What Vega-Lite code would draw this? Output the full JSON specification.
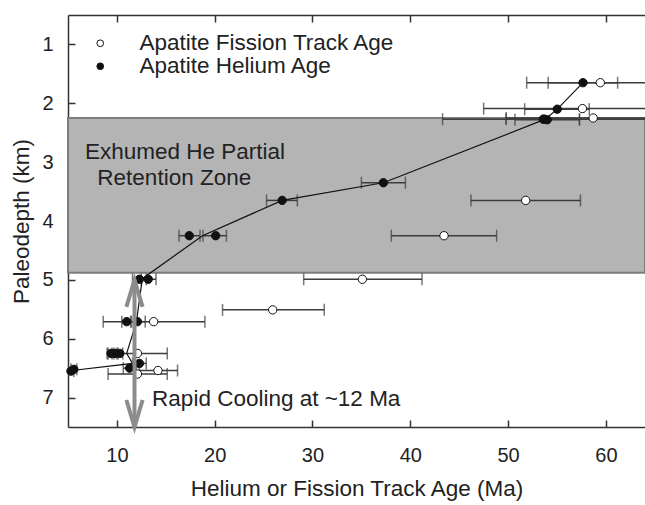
{
  "$schema": "https://vega.github.io/schema/vega-lite/v6.json",
  "width": 577,
  "height": 412,
  "autosize": {"type": "none"},
  "padding": {"left": 68, "top": 15, "right": 0, "bottom": 78},
  "background": "white",
  "config": {
    "view": {"stroke": null},
    "font": "Liberation Sans",
    "axis": {"grid": false, "domainColor": "#333", "domainWidth": 1.5, "tickColor": "#333", "tickWidth": 1.5, "labelColor": "#222", "titleColor": "#222", "labelFont": "Liberation Sans", "titleFont": "Liberation Sans", "titleFontWeight": "normal"}
  },
  "datasets": {
    "band": [{"x1": 5, "x2": 64, "y1": 2.25, "y2": 4.88}],
    "pts": [
      {"type": "Apatite Fission Track Age", "age": 59.43, "depth": 1.65, "lo": 51.9, "hi": 67.0},
      {"type": "Apatite Fission Track Age", "age": 57.6, "depth": 2.09, "lo": 47.5, "hi": 67.7},
      {"type": "Apatite Fission Track Age", "age": 53.7, "depth": 2.27, "lo": 43.3, "hi": 64.1},
      {"type": "Apatite Fission Track Age", "age": 58.7, "depth": 2.25, "lo": 49.8, "hi": 67.6},
      {"type": "Apatite Fission Track Age", "age": 51.8, "depth": 3.65, "lo": 46.2, "hi": 57.4},
      {"type": "Apatite Fission Track Age", "age": 43.45, "depth": 4.25, "lo": 38.06, "hi": 48.83},
      {"type": "Apatite Fission Track Age", "age": 35.1, "depth": 4.99, "lo": 29.1, "hi": 41.2},
      {"type": "Apatite Fission Track Age", "age": 25.93, "depth": 5.51, "lo": 20.8, "hi": 31.2},
      {"type": "Apatite Fission Track Age", "age": 13.76, "depth": 5.71, "lo": 8.6, "hi": 19.0},
      {"type": "Apatite Fission Track Age", "age": 12.1, "depth": 6.25, "lo": 9.0, "hi": 15.15},
      {"type": "Apatite Fission Track Age", "age": 14.2, "depth": 6.54, "lo": 12.3, "hi": 16.2},
      {"type": "Apatite Fission Track Age", "age": 12.1, "depth": 6.6, "lo": 9.1, "hi": 15.15},
      {"type": "Apatite Helium Age", "age": 57.66, "depth": 1.65, "lo": 54.1, "hi": 61.2},
      {"type": "Apatite Helium Age", "age": 55.03, "depth": 2.1, "lo": 51.7, "hi": 58.3},
      {"type": "Apatite Helium Age", "age": 53.6, "depth": 2.27, "lo": 49.8, "hi": 57.3},
      {"type": "Apatite Helium Age", "age": 54.0, "depth": 2.28, "lo": 50.7, "hi": 57.3},
      {"type": "Apatite Helium Age", "age": 37.25, "depth": 3.35, "lo": 35.0, "hi": 39.5},
      {"type": "Apatite Helium Age", "age": 26.9, "depth": 3.65, "lo": 25.3, "hi": 28.45},
      {"type": "Apatite Helium Age", "age": 20.1, "depth": 4.25, "lo": 18.8, "hi": 21.2},
      {"type": "Apatite Helium Age", "age": 17.4, "depth": 4.25, "lo": 16.35, "hi": 18.5},
      {"type": "Apatite Helium Age", "age": 12.3, "depth": 4.99, "lo": 11.6, "hi": 13.0},
      {"type": "Apatite Helium Age", "age": 13.2, "depth": 4.99, "lo": 12.5, "hi": 14.0},
      {"type": "Apatite Helium Age", "age": 11.0, "depth": 5.71, "lo": 10.5, "hi": 11.5},
      {"type": "Apatite Helium Age", "age": 12.1, "depth": 5.71, "lo": 11.4, "hi": 12.9},
      {"type": "Apatite Helium Age", "age": 9.4, "depth": 6.25, "lo": 9.1, "hi": 9.7},
      {"type": "Apatite Helium Age", "age": 9.8, "depth": 6.25, "lo": 9.5, "hi": 10.1},
      {"type": "Apatite Helium Age", "age": 10.3, "depth": 6.25, "lo": 10.0, "hi": 10.6},
      {"type": "Apatite Helium Age", "age": 12.3, "depth": 6.42, "lo": 11.6, "hi": 13.0},
      {"type": "Apatite Helium Age", "age": 11.3, "depth": 6.5, "lo": 10.65, "hi": 12.0},
      {"type": "Apatite Helium Age", "age": 5.3, "depth": 6.55, "lo": 5.0, "hi": 5.6},
      {"type": "Apatite Helium Age", "age": 5.6, "depth": 6.52, "lo": 5.3, "hi": 5.9}
    ],
    "trend": [
      {"seq": 1, "age": 57.66, "depth": 1.65},
      {"seq": 2, "age": 55.03, "depth": 2.1},
      {"seq": 3, "age": 53.8, "depth": 2.27},
      {"seq": 4, "age": 37.25, "depth": 3.35},
      {"seq": 5, "age": 26.9, "depth": 3.65},
      {"seq": 6, "age": 18.75, "depth": 4.25},
      {"seq": 7, "age": 12.6, "depth": 4.98},
      {"seq": 8, "age": 12.0, "depth": 5.71},
      {"seq": 9, "age": 11.0, "depth": 6.25},
      {"seq": 10, "age": 11.6, "depth": 6.42},
      {"seq": 11, "age": 5.4, "depth": 6.54}
    ],
    "notes": [
      {"label": "Exhumed He Partial", "age": 6.74, "depth": 2.95},
      {"label": "Retention Zone", "age": 8.0, "depth": 3.39},
      {"label": "Rapid Cooling at ~12 Ma", "age": 13.6, "depth": 7.14}
    ],
    "arrow": [
      {"age": 11.8, "top": 5.0, "bottom": 7.5}
    ],
    "heads": [
      {"age": 11.8, "depth": 5.0, "dir": "up"},
      {"age": 11.8, "depth": 7.5, "dir": "down"}
    ]
  },
  "resolve": {"axis": {"x": "independent"}},
  "layer": [
    {
      "data": {"name": "band"},
      "mark": {"type": "rect", "fill": "#b4b4b4", "stroke": "#7d7d7d", "strokeWidth": 2},
      "encoding": {
        "x": {"field": "x1", "type": "quantitative",
              "scale": {"domain": [5, 64], "nice": false, "zero": false},
              "axis": {"orient": "bottom", "values": [10, 20, 30, 40, 50, 60], "format": "d", "tickSize": -7, "labelPadding": 25, "labelFontSize": 20, "title": "Helium or Fission Track Age (Ma)", "titleFontSize": 22.5, "titlePadding": 12}},
        "x2": {"field": "x2"},
        "y": {"field": "y1", "type": "quantitative",
              "scale": {"domain": [0.5, 7.5], "nice": false, "zero": false, "reverse": true},
              "axis": {"values": [1, 2, 3, 4, 5, 6, 7], "format": "d", "tickSize": -7, "labelPadding": 22, "labelFontSize": 20, "title": "Paleodepth (km)", "titleFontSize": 22.5, "titlePadding": 8}},
        "y2": {"field": "y2"}
      }
    },
    {
      "data": {"name": "notes"},
      "mark": {"type": "text", "align": "left", "baseline": "alphabetic", "fontSize": 22.5, "color": "#222", "font": "Liberation Sans"},
      "encoding": {
        "x": {"field": "age", "type": "quantitative",
              "axis": {"orient": "top", "values": [10, 20, 30, 40, 50, 60], "tickSize": -7, "labels": false, "title": null}},
        "y": {"field": "depth", "type": "quantitative"},
        "text": {"field": "label"}
      }
    },
    {
      "data": {"name": "pts"},
      "mark": {"type": "rule", "color": "#3c3c3c", "strokeWidth": 1.5, "clip": true},
      "encoding": {
        "x": {"field": "lo", "type": "quantitative", "axis": null},
        "x2": {"field": "hi"},
        "y": {"field": "depth", "type": "quantitative"}
      }
    },
    {
      "data": {"name": "pts"},
      "mark": {"type": "tick", "orient": "vertical", "color": "#3c3c3c", "thickness": 1.5, "size": 12, "clip": true},
      "encoding": {
        "x": {"field": "lo", "type": "quantitative", "axis": null},
        "y": {"field": "depth", "type": "quantitative"}
      }
    },
    {
      "data": {"name": "pts"},
      "mark": {"type": "tick", "orient": "vertical", "color": "#3c3c3c", "thickness": 1.5, "size": 12, "clip": true},
      "encoding": {
        "x": {"field": "hi", "type": "quantitative", "axis": null},
        "y": {"field": "depth", "type": "quantitative"}
      }
    },
    {
      "data": {"name": "trend"},
      "mark": {"type": "line", "color": "#111", "strokeWidth": 1.2},
      "encoding": {
        "x": {"field": "age", "type": "quantitative", "axis": null},
        "y": {"field": "depth", "type": "quantitative"},
        "order": {"field": "seq", "type": "quantitative"}
      }
    },
    {
      "data": {"name": "pts"},
      "mark": {"type": "point", "filled": true, "stroke": "#111", "strokeWidth": 1, "size": 70, "opacity": 1, "shape": "circle"},
      "encoding": {
        "x": {"field": "age", "type": "quantitative", "axis": null},
        "y": {"field": "depth", "type": "quantitative"},
        "fill": {"field": "type", "type": "nominal",
                 "scale": {"domain": ["Apatite Fission Track Age", "Apatite Helium Age"], "range": ["white", "#111"]},
                 "legend": {"orient": "none", "legendX": 21, "legendY": 17, "title": null, "padding": 0, "rowPadding": -2,
                            "symbolType": "circle", "symbolSize": 45, "symbolStrokeColor": "#111", "symbolStrokeWidth": 1, "symbolOpacity": 1,
                            "labelFontSize": 22.5, "labelFont": "Liberation Sans", "labelColor": "#222", "labelOffset": 28, "labelLimit": 400}}
      }
    },
    {
      "data": {"name": "arrow"},
      "mark": {"type": "rule", "color": "#8c8c8c", "strokeWidth": 4},
      "encoding": {
        "x": {"field": "age", "type": "quantitative", "axis": null},
        "y": {"field": "top", "type": "quantitative"},
        "y2": {"field": "bottom"}
      }
    },
    {
      "data": {"name": "heads"},
      "mark": {"type": "point", "filled": false, "color": "#8c8c8c", "strokeWidth": 4, "size": 729, "opacity": 1},
      "encoding": {
        "x": {"field": "age", "type": "quantitative", "axis": null},
        "y": {"field": "depth", "type": "quantitative"},
        "shape": {"field": "dir", "type": "nominal", "legend": null,
                  "scale": {"domain": ["up", "down"], "range": ["M-0.6,2L0,0L0.6,2", "M-0.6,-2L0,0L0.6,-2"]}}
      }
    }
  ]
}
